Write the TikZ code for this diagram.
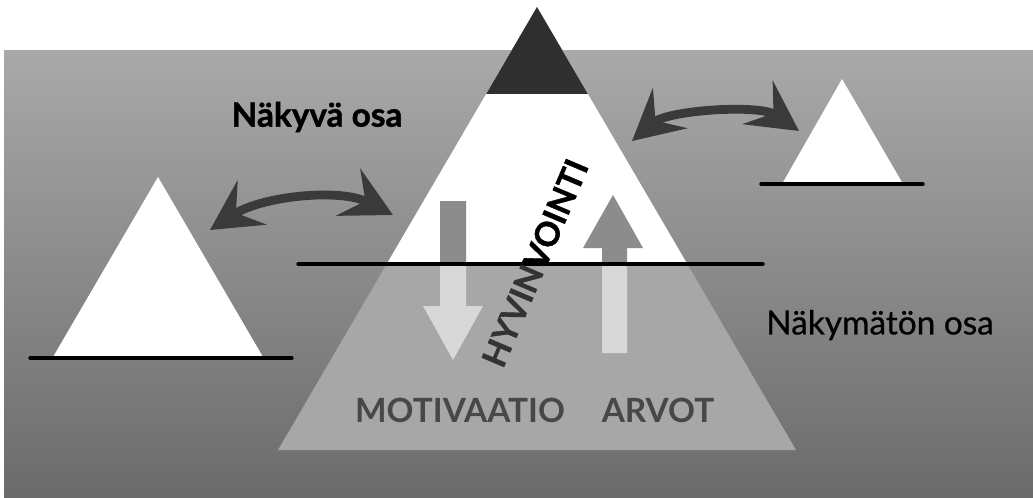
\documentclass[tikz,border=0pt]{standalone}
\usepackage{fontspec}
\setmainfont{Lato}
\newfontfamily\heavyfont{Lato}[BoldFeatures={FakeBold=1.2}]
\newfontfamily\medfont{Lato}[UprightFeatures={FakeBold=0.6}]
\usetikzlibrary{arrows.meta}
\definecolor{seatop}{HTML}{A9A9A9}
\definecolor{seamid}{HTML}{8E8E8E}
\definecolor{seabot}{HTML}{6B6B6B}
\definecolor{under}{HTML}{A7A7A7}
\definecolor{tipdark}{HTML}{2F2F2F}
\definecolor{swapgray}{HTML}{3A3A3A}
\definecolor{flowup}{HTML}{8C8C8C}
\definecolor{flowdown}{HTML}{D8D8D8}
\definecolor{wordgray}{HTML}{484848}
\definecolor{hyvin}{HTML}{333333}
\begin{document}
\begin{tikzpicture}[x=0.02cm,y=-0.02cm,
  wline/.style={line width=1.9pt,line cap=round},
  swap/.style={draw=swapgray,line width=5pt,
    {Stealth[length=1cm,width=1.05cm,inset=0.38cm]}-{Stealth[length=1cm,width=1.05cm,inset=0.38cm]}},
  lbl/.style={inner sep=0pt,font=\fontsize{19}{22}\heavyfont\bfseries},
  capword/.style={inner sep=0pt,text=wordgray,font=\fontsize{19}{22}\selectfont\bfseries}]
\useasboundingbox (0,0) rectangle (1033,497);
\fill[white] (0,0) rectangle (1033,497);
\shade[top color=seatop,middle color=seamid,bottom color=seabot] (4,50) rectangle (1033,497);

\coordinate (apex) at (537,7);
\coordinate (bl) at (278,450);
\coordinate (br) at (796,450);
\fill[under] (apex) -- (bl) -- (br) -- cycle;
\begin{scope}
  \clip (0,0) rectangle (1033,264);
  \fill[white] (apex) -- (bl) -- (br) -- cycle;
\end{scope}
\begin{scope}
  \clip (0,0) rectangle (1033,93);
  \fill[tipdark] (apex) -- (bl) -- (br) -- cycle;
\end{scope}

\foreach \clr/\ya/\yb in {flowup/0/264,flowdown/264/497}{
  \begin{scope}
    \clip (0,\ya) rectangle (1033,\yb);
    \fill[\clr] (440,201) -- (466,201) -- (466,306) -- (483,306) -- (453,360)
      -- (423,306) -- (440,306) -- cycle;
    \fill[\clr] (602,353) -- (627,353) -- (627,248) -- (643,248) -- (613,195)
      -- (583,248) -- (602,248) -- cycle;
  \end{scope}
}

\fill[white] (158,177) -- (53,357) -- (263,357) -- cycle;
\fill[white] (842,79) -- (782,184) -- (903,184) -- cycle;

\coordinate (w1) at (298,264);
\coordinate (w2) at (763,264);
\coordinate (l1) at (30,358);
\coordinate (l2) at (292,358);
\coordinate (r1) at (761,184);
\coordinate (r2) at (923,184);
\draw[wline] (w1) -- (w2);
\draw[wline] (l1) -- (l2);
\draw[wline] (r1) -- (r2);

\coordinate (s1) at (210,230);
\coordinate (s2) at (393,215);
\coordinate (s3) at (632,141);
\coordinate (s4) at (799,131);
\draw[swap] (s1) .. controls (262,196) and (340,188) .. (s2);
\draw[swap] (s3) .. controls (668,110) and (760,104) .. (s4);

\node[lbl] (seen) at (317,117) {Näkyvä osa};
\node[inner sep=0pt,font=\fontsize{19}{22}\medfont] (unseen) at (880,325) {Näkymätön osa};
\node[capword] (motiv) at (460,410) {MOTIVAATIO};
\node[capword] (arvot) at (658,410) {ARVOT};
\node[lbl,rotate=67] (hyv) at (535,263) {{\color{hyvin}HYVIN}VOINTI};
\end{tikzpicture}
\end{document}
